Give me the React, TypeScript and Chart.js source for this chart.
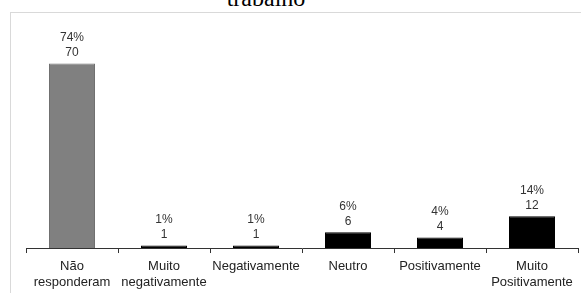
import React, { useEffect, useRef } from "react";
import { Chart, registerables } from "chart.js";

Chart.register(...registerables);

const categories: string[][] = [
  ["Não", "responderam"],
  ["Muito", "negativamente"],
  ["Negativamente"],
  ["Neutro"],
  ["Positivamente"],
  ["Muito", "Positivamente"],
];
const counts: number[] = [70, 1, 1, 6, 4, 12];
const percents: string[] = ["74%", "1%", "1%", "6%", "4%", "14%"];
const barColors: string[] = ["#808080", "#000000", "#000000", "#000000", "#000000", "#000000"];
const titleText = "trabalho";

const labelPlugin = {
  id: "barLabels",
  afterDatasetsDraw(chart: any) {
    const ctx = chart.ctx;
    const meta = chart.getDatasetMeta(0);
    ctx.save();
    ctx.font = "12px Arial, 'Liberation Sans', sans-serif";
    ctx.fillStyle = "#333333";
    ctx.textAlign = "center";
    ctx.textBaseline = "alphabetic";
    meta.data.forEach((bar: any, i: number) => {
      const x = bar.x;
      const y = bar.y;
      ctx.fillText(String(counts[i]), x, y - 7);
      ctx.fillText(percents[i], x, y - 22);
    });
    ctx.restore();
  },
};

export default function App() {
  const ref = useRef<HTMLCanvasElement | null>(null);
  useEffect(() => {
    if (!ref.current) return;
    const chart = new Chart(ref.current, {
      type: "bar",
      data: {
        labels: categories,
        datasets: [
          {
            data: counts,
            backgroundColor: barColors,
            borderColor: barColors.map((c) => (c === "#808080" ? "#707070" : "#000000")),
            borderWidth: 1,
            categoryPercentage: 1,
            barPercentage: 0.5,
          },
        ],
      },
      options: {
        animation: false,
        responsive: false,
        maintainAspectRatio: false,
        layout: { padding: { left: 26, right: 3, top: 37, bottom: -2 } },
        plugins: {
          legend: { display: false },
          title: { display: false },
          tooltip: { enabled: false },
        },
        scales: {
          y: { display: false, min: 0, max: 80 },
          x: {
            offset: true,
            border: { display: true, color: "#333333", width: 1 },
            grid: {
              display: true,
              offset: true,
              drawOnChartArea: false,
              drawTicks: true,
              tickLength: 5,
              color: "#333333",
            },
            ticks: {
              color: "#222222",
              padding: 5,
              maxRotation: 0,
              autoSkip: false,
              font: { family: "Arial, 'Liberation Sans', sans-serif", size: 13, lineHeight: 1.23 },
            },
          },
        },
      },
      plugins: [labelPlugin],
    });
    return () => chart.destroy();
  }, []);

  return (
    <div
      style={{
        position: "fixed",
        left: 0,
        top: 0,
        width: 581,
        height: 293,
        overflow: "hidden",
        background: "#ffffff",
      }}
    >
      <div
        style={{
          position: "absolute",
          left: 0,
          width: 532,
          top: -16,
          textAlign: "center",
          fontFamily: "'Liberation Serif', 'Times New Roman', serif",
          fontSize: 24,
          lineHeight: "28px",
          color: "#000",
        }}
      >
        {titleText}
      </div>
      <div
        style={{
          position: "absolute",
          left: 10,
          top: 12,
          width: 600,
          height: 300,
          border: "1px solid #d9d9d9",
          boxSizing: "border-box",
        }}
      />
      <canvas
        ref={ref}
        width={581}
        height={293}
        style={{ position: "absolute", left: 0, top: 0, width: 581, height: 293 }}
      />
    </div>
  );
}
